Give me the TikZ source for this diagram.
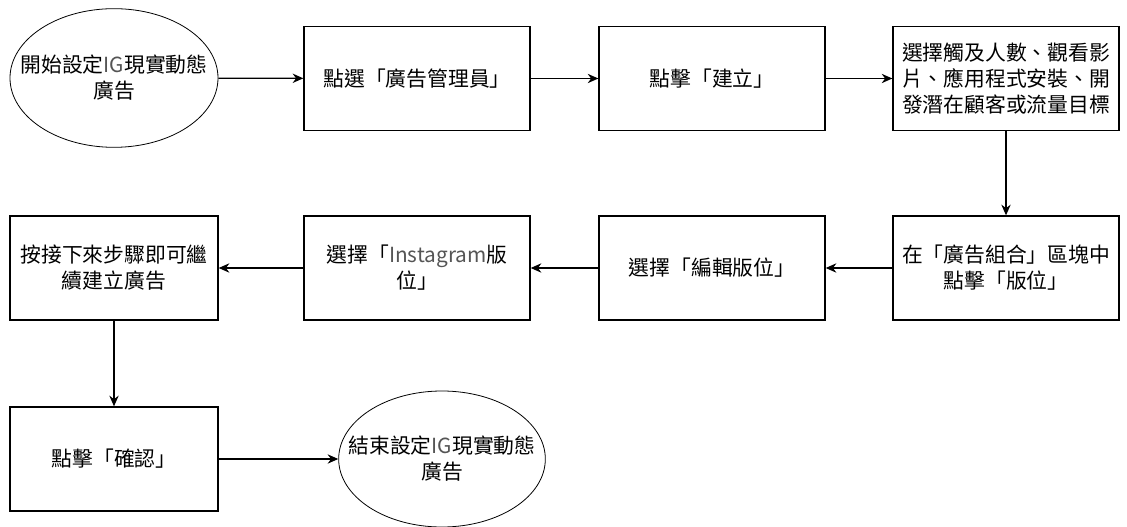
\documentclass[tikz,border=0pt]{standalone}
\usepackage{fontspec}
\newfontfamily\cjk{Noto Sans CJK TC}
\definecolor{latingray}{RGB}{85, 85, 85}
\usetikzlibrary{arrows.meta, shapes.geometric}

\begin{document}
\begin{tikzpicture}[x=0.75pt, y=-0.75pt,
  box/.style={draw, line width=1pt, minimum width=169.5pt, minimum height=78pt, inner sep=2pt,
              align=center, font=\cjk\fontsize{15.6pt}{19.5pt}\selectfont},
  narrowbox/.style={box, minimum width=156pt},
  terminal/.style={box, ellipse, line width=0.6pt, minimum width=156pt, minimum height=104pt,
                   inner ysep=0pt, inner xsep=-20pt},
  flow/.style={-{Stealth[length=8pt, width=7pt]}, line width=1pt},
]
\useasboundingbox (0, 0) rectangle (1127, 527);

% Top row
\node[terminal] (start) at (114, 78) {開始設定{\color{latingray}IG}現實動態\\廣告};
\node[box] (admin) at (417, 78.5) {點選「廣告管理員」};
\node[box] (create) at (712, 78.5) {點擊「建立」};
\node[box] (objective) at (1006, 78.5)
     {選擇觸及人數、觀看影\\片、應用程式安裝、開\\發潛在顧客或流量目標};

% Middle row, right to left
\node[box] (placement) at (1006, 268) {在「廣告組合」區塊中\\點擊「版位」};
\node[box] (editpos) at (712, 268) {選擇「編輯版位」};
\node[box] (igpos) at (417, 268) {選擇「{\color{latingray}Instagram}版\\位」};
\node[narrowbox] (next) at (114, 268) {按接下來步驟即可繼\\續建立廣告};

% Bottom row
\node[narrowbox] (confirm) at (114, 459) {點擊「確認」};
\node[terminal, minimum width=155pt, minimum height=102pt] (finish) at (442, 459)
     {結束設定{\color{latingray}IG}現實動態\\廣告};

% Connectors
\draw[flow] (start) -- (admin);
\draw[flow] (admin) -- (create);
\draw[flow] (create) -- (objective);
\draw[flow] (objective) -- (placement);
\draw[flow] (placement) -- (editpos);
\draw[flow] (editpos) -- (igpos);
\draw[flow] (igpos) -- (next);
\draw[flow] (next) -- (confirm);
\draw[flow] (confirm) -- (finish);
\end{tikzpicture}
\end{document}
